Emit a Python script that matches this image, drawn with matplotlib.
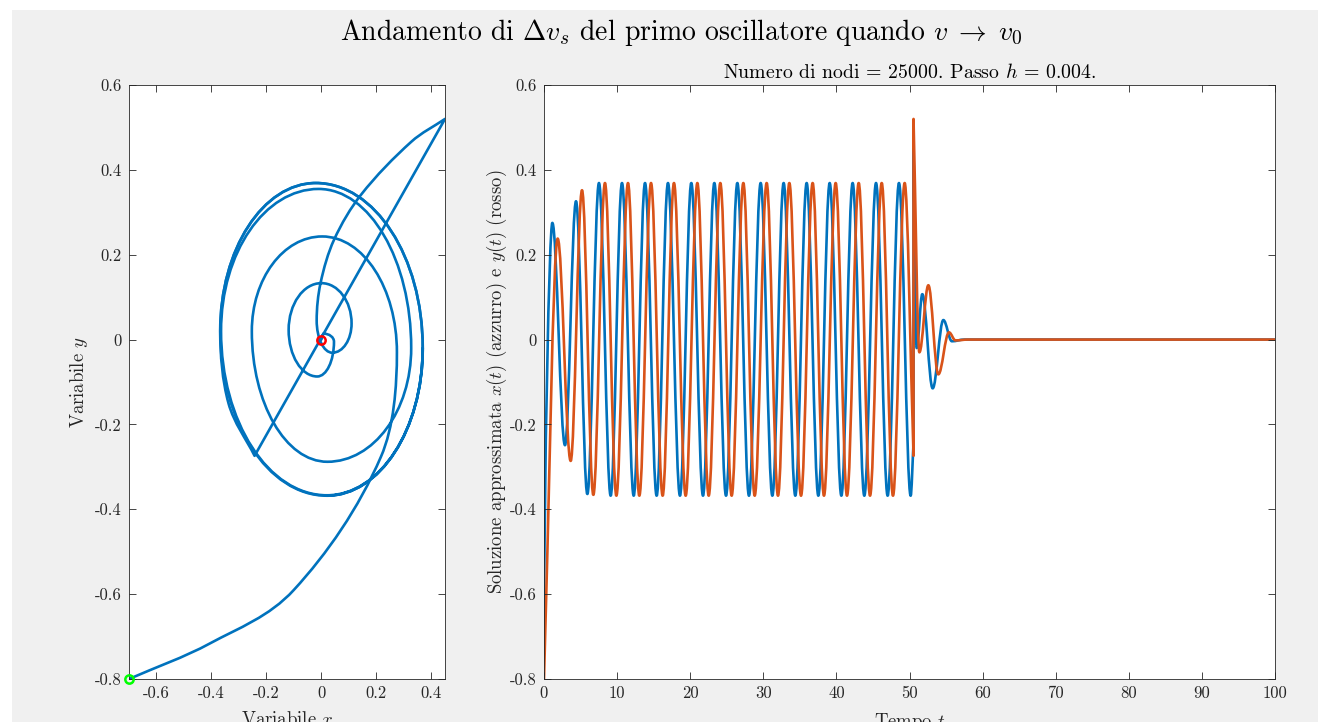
import math
import matplotlib
matplotlib.use("Agg")
import matplotlib.pyplot as plt
from matplotlib.path import Path
from matplotlib.patches import PathPatch, Rectangle
from matplotlib.ticker import FuncFormatter

plt.rcParams["font.family"] = "serif"
plt.rcParams["font.serif"] = ["cmr10"]
plt.rcParams["mathtext.fontset"] = "cm"
plt.rcParams["axes.unicode_minus"] = False

BLUE = "#0072BD"
ORANGE = "#D95319"

# x(t): turning points of the first oscillator ('h' = flat tangent,
# 'v' = steep start, 'l' = straight join, used for the jump)
x_times = [0.00, 1.14, 2.87, 4.38, 5.93, 7.52, 9.12, 10.67, 12.27, 13.82,
           15.41, 16.96, 18.60, 20.15, 21.75, 23.30, 24.90, 26.45, 28.04,
           29.64, 31.24, 32.78, 34.38, 35.93, 37.53, 39.08, 40.68, 42.22,
           43.82, 45.42, 47.01, 48.56, 50.16, 50.55, 50.55, 50.98, 51.75,
           53.17, 54.63, 55.80, 57.50, 100.0]
x_values = [-0.700, 0.275, -0.249, 0.326, -0.364, 0.369, -0.368, 0.369,
            -0.368, 0.369, -0.368, 0.369, -0.368, 0.369, -0.368, 0.369,
            -0.368, 0.369, -0.368, 0.369, -0.368, 0.369, -0.368, 0.369,
            -0.368, 0.369, -0.368, 0.369, -0.368, 0.369, -0.368, 0.369,
            -0.368, -0.243, 0.450, -0.020, 0.107, -0.115, 0.046, -0.004,
            0.000, 0.000]
x_kinds = ["v"] + ["h"] * 32 + ["l", "l"] + ["h"] * 6 + ["l"]

# y(t)
y_times = [0.00, 1.87, 3.65, 5.20, 6.75, 8.34, 9.90, 11.49, 13.04, 14.64,
           16.23, 17.78, 19.38, 20.98, 22.53, 24.12, 25.67, 27.27, 28.82,
           30.46, 32.01, 33.56, 35.16, 36.75, 38.30, 39.90, 41.45, 43.05,
           44.60, 46.20, 47.74, 49.34, 50.55, 50.55, 51.35, 52.58, 53.94,
           55.40, 56.30, 58.00, 100.0]
y_values = [-0.800, 0.238, -0.286, 0.352, -0.366, 0.369, -0.368, 0.369,
            -0.368, 0.369, -0.368, 0.369, -0.368, 0.369, -0.368, 0.369,
            -0.368, 0.369, -0.368, 0.369, -0.368, 0.369, -0.368, 0.369,
            -0.368, 0.369, -0.368, 0.369, -0.368, 0.369, -0.368, 0.369,
            -0.274, 0.520, -0.030, 0.128, -0.082, 0.017, -0.002, 0.000,
            0.000]
y_kinds = ["l"] + ["h"] * 31 + ["l", "l"] + ["h"] * 7 + ["l"]

# phase plane (x, y): approach, one loop of the limit cycle, jump, decay
# 'v' = vertical tangent, 'h' = horizontal, 'c' = smooth through neighbours
phase_start_x = [-0.700, -0.405, -0.100, 0.217, 0.275, 0.003, -0.253, 0.022,
                 0.327, -0.010, -0.365, 0.020]
phase_start_y = [-0.800, -0.716, -0.590, -0.276, -0.030, 0.243, 0.020, -0.288,
                 -0.020, 0.355, 0.020, -0.367]
phase_start_k = ["l", "c", "c", "c", "v", "h", "v", "h", "v", "h", "v", "h"]

cycle_x = [0.369, -0.020, -0.368, 0.020]
cycle_y = [-0.020, 0.369, 0.020, -0.368]
cycle_k = ["v", "h", "v", "h"]

phase_end_x = [0.369, -0.020, -0.368, -0.338, -0.243, 0.450, 0.327, 0.144,
               0.046, -0.003, -0.017, 0.040, 0.110, 0.000, -0.119, -0.015,
               0.046, 0.008, 0.000]
phase_end_y = [-0.020, 0.369, 0.020, -0.150, -0.274, 0.520, 0.466, 0.341,
               0.235, 0.133, 0.045, -0.031, 0.038, 0.133, 0.023, -0.087,
               -0.005, 0.014, 0.000]
phase_end_k = ["v", "h", "v", "c", "l", "l", "c", "c", "c", "c", "v", "h",
               "v", "h", "v", "h", "v", "h", "l"]

start_point = (-0.70, -0.80)
end_point = (0.0, 0.0)


def control(xs, ys, kinds, i, j, k):
    # control point leaving point i towards its neighbour j
    px, py = xs[i], ys[i]
    dx, dy = xs[j] - px, ys[j] - py
    kind = kinds[i]
    quarter = kinds[j] in ("h", "v")
    if kind == "h":
        return (px + (k if quarter else 1 / 3) * dx, py)
    if kind == "v":
        return (px, py + (k if quarter else 1 / 3) * dy)
    if kind == "c":
        back = 2 * i - j
        tx, ty = xs[j] - xs[back], ys[j] - ys[back]
        n = math.hypot(tx, ty)
        L = math.hypot(dx, dy) / 3
        return (px + tx / n * L, py + ty / n * L)
    return (px + dx / 3, py + dy / 3)


def smooth_path(xs, ys, kinds, k):
    verts = [(xs[0], ys[0])]
    codes = [Path.MOVETO]
    for i in range(len(xs) - 1):
        verts += [control(xs, ys, kinds, i, i + 1, k),
                  control(xs, ys, kinds, i + 1, i, k),
                  (xs[i + 1], ys[i + 1])]
        codes += [Path.CURVE4] * 3
    return Path(verts, codes)


def draw_curve(ax, path, color):
    ax.add_patch(PathPatch(path, fill=False, edgecolor=color, lw=1.9,
                           joinstyle="round", capstyle="round"))


def style_axes(ax):
    for s in ax.spines.values():
        s.set_color("#262626")
        s.set_linewidth(0.6)
    ax.tick_params(direction="in", top=True, right=True, length=5, width=0.6,
                   color="#262626", labelsize=12, labelcolor="#262626", pad=5)
    ax.xaxis.set_major_formatter(FuncFormatter(lambda v, p: "%g" % round(v, 6)))
    ax.yaxis.set_major_formatter(FuncFormatter(lambda v, p: "%g" % round(v, 6)))


fig = plt.figure(figsize=(13.31, 7.22), dpi=100)
fig.patch.set_facecolor("white")
fig.add_artist(Rectangle((12 / 1331, 0), 1306 / 1331, 712 / 722,
                         transform=fig.transFigure, facecolor="#f0f0f0",
                         edgecolor="none", zorder=-10))

# phase plane
ax1 = fig.add_axes([129 / 1331, 43 / 722, 316 / 1331, 594 / 722])
ax1.set_xlim(-0.7, 0.45)
ax1.set_ylim(-0.8, 0.6)
ax1.set_xticks([-0.6, -0.4, -0.2, 0, 0.2, 0.4])
ax1.set_yticks([-0.8, -0.6, -0.4, -0.2, 0, 0.2, 0.4, 0.6])
style_axes(ax1)
draw_curve(ax1, smooth_path(phase_start_x, phase_start_y, phase_start_k, 0.5523), BLUE)
draw_curve(ax1, smooth_path(phase_start_x[-1:] + cycle_x + cycle_x[:1],
                            phase_start_y[-1:] + cycle_y + cycle_y[:1],
                            ["h"] + cycle_k + cycle_k[:1], 0.5523), BLUE)
draw_curve(ax1, smooth_path(cycle_x[-1:] + phase_end_x,
                            cycle_y[-1:] + phase_end_y,
                            ["h"] + phase_end_k, 0.5523), BLUE)
ax1.plot(*start_point, "o", ms=6, mfc="none", mec="#00ff00", mew=1.8, clip_on=False, zorder=5)
ax1.plot(*end_point, "o", ms=6, mfc="none", mec="red", mew=1.8, zorder=5)
ax1.set_xlabel(r"Variabile $x$", fontsize=13.5, color="#262626", labelpad=7)
ax1.set_ylabel(r"Variabile $y$", fontsize=13.5, color="#262626", labelpad=4)

# time series
ax2 = fig.add_axes([544 / 1331, 43 / 722, 731 / 1331, 594 / 722])
ax2.set_xlim(0, 100)
ax2.set_ylim(-0.8, 0.6)
ax2.set_xticks(range(0, 101, 10))
ax2.set_yticks([-0.8, -0.6, -0.4, -0.2, 0, 0.2, 0.4, 0.6])
style_axes(ax2)
draw_curve(ax2, smooth_path(x_times, x_values, x_kinds, 0.3634), BLUE)
draw_curve(ax2, smooth_path(y_times, y_values, y_kinds, 0.3634), ORANGE)
ax2.set_xlabel(r"Tempo $t$", fontsize=13.5, color="#262626", labelpad=7)
ax2.set_ylabel(r"Soluzione approssimata $x(t)$ (azzurro) e $y(t)$ (rosso)",
               fontsize=13.5, color="#262626", labelpad=1)
ax2.set_title(r"Numero di nodi = 25000. Passo $h$ = 0.004.", fontsize=14.3,
              color="#000000", pad=5)

fig.suptitle(r"Andamento di $\Delta v_s$ del primo oscillatore quando $v \;\rightarrow\; v_0$",
             fontsize=20, x=681.5 / 1331, y=1 - 33 / 722, va="center")

fig.savefig("out.png", dpi=100, facecolor=fig.get_facecolor())
